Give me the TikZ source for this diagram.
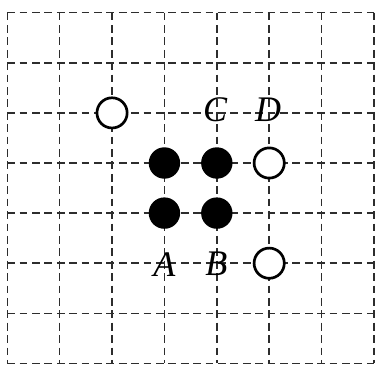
\documentclass[tikz,border=0pt]{standalone}
\usepackage{fontspec}
\setmainfont{Liberation Serif}
\usepackage{xcolor}
\usepackage{tikz}
\usetikzlibrary{positioning}
\definecolor{gridgray}{RGB}{45,45,45}

\begin{document}
\begin{tikzpicture}[x=26.19pt, y=-25.05pt,
    gridline/.style={draw=gridgray, line width=0.75pt, dash pattern=on 3.9pt off 2.3pt},
    blackstone/.style={circle, fill=black, minimum size=15.7pt, inner sep=0pt},
    whitestone/.style={circle, draw=black, fill=white, line width=1.35pt, minimum size=15.1pt, inner sep=0pt},
    pointlabel/.style={font=\fontsize{18}{20}\selectfont\itshape, inner sep=0pt}]
        \useasboundingbox (-0.139,-0.2535) rectangle (7.039,7.033);
        \foreach \i in {0,...,7} {
            \draw[gridline] (\i,0) -- (\i,7);
            \draw[gridline] (0,\i) -- (7,\i);
        }
        \node[whitestone] (w1) at (2,2) {};
        \node[blackstone] (b1) at (3,3) {};
        \node[blackstone] (b2) at (4,3) {};
        \node[whitestone] (w2) at (5,3) {};
        \node[blackstone] (b3) at (3,4) {};
        \node[blackstone] (b4) at (4,4) {};
        \node[whitestone] (w3) at (5,5) {};
        \node[pointlabel] (labc) at (3.97,1.94) {C};
        \node[pointlabel] (labd) at (4.98,1.94) {D};
        \node[pointlabel] (laba) at (3,5.02) {A};
        \node[pointlabel] (labb) at (3.99,5.02) {B};
      \end{tikzpicture}
\end{document}
